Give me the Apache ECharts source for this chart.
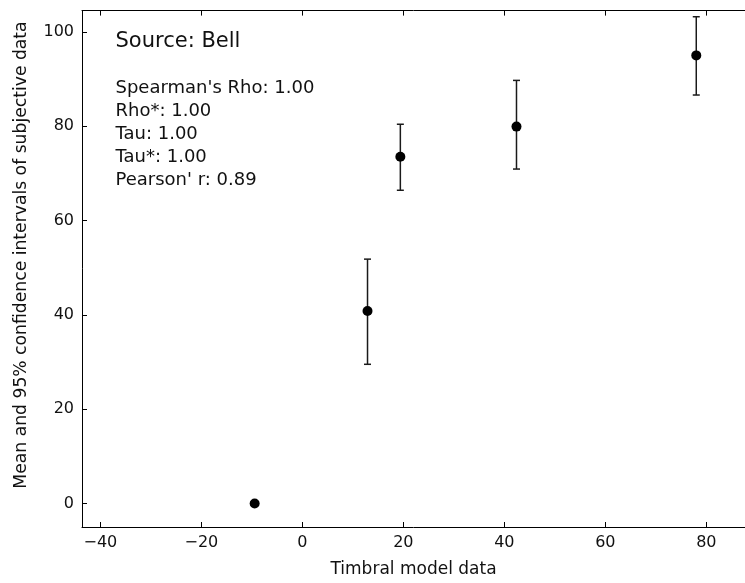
<!DOCTYPE html>
<html>
<head>
<meta charset="utf-8">
<script src="https://cdn.jsdelivr.net/npm/echarts@6/dist/echarts.min.js"></script>
<style>
  html, body { margin: 0; padding: 0; background: #fff; }
  #chart { width: 745px; height: 583px; }
</style>
</head>
<body>
<div id="chart"></div>
<script>
// Timbral model output vs. subjective ratings (mean with 95% CI)
const modelValues = [-9.45, 12.9, 19.4, 42.4, 78.0];
const meanRatings = [0, 40.8, 73.5, 79.9, 95.0];
const ciLower     = [0, 29.5, 66.4, 70.9, 86.6];
const ciUpper     = [0, 51.8, 80.4, 89.7, 103.2];

const xTicks = [-40, -20, 0, 20, 40, 60, 80];
const yTicks = [0, 20, 40, 60, 80, 100];

const xTitle = 'Timbral model data';
const yTitle = 'Mean and 95% confidence intervals of subjective data';
const sourceLabel = 'Source: Bell';
const statLines = [
  "Spearman's Rho: 1.00",
  'Rho*: 1.00',
  'Tau: 1.00',
  'Tau*: 1.00',
  "Pearson' r: 0.89"
];

const FONT = 'DejaVu Sans';
const INK = '#000';
const minus = v => String(v).replace('-', '\u2212');

const points = modelValues.map((x, i) => [x, meanRatings[i]]);
const bars = modelValues.map((x, i) => [x, ciLower[i], ciUpper[i]]);

const chart = echarts.init(document.getElementById('chart'), null, { renderer: 'canvas' });

const baseAxisLine = { show: true, onZero: false, lineStyle: { color: INK, width: 1 } };
const X_MIN = -43.64, X_MAX = 87.65;

chart.setOption({
  animation: false,
  backgroundColor: '#fff',
  // plot box is open on the right: it ends at the canvas edge
  grid: { left: 82, top: 10.6, bottom: 52.2, right: 0, containLabel: false },
  xAxis: [
    {
      type: 'value', position: 'bottom', min: X_MIN, max: X_MAX,
      axisLine: baseAxisLine,
      axisTick: { show: true, inside: true, length: 5, customValues: xTicks, lineStyle: { color: INK } },
      axisLabel: { customValues: xTicks, formatter: minus, color: '#111', fontFamily: FONT, fontSize: 16, margin: 8 },
      splitLine: { show: false },
      name: xTitle, nameLocation: 'middle', nameGap: 34,
      nameTextStyle: { fontFamily: FONT, fontSize: 17, color: '#111' }
    },
    {
      type: 'value', position: 'top', min: X_MIN, max: X_MAX,
      axisLine: baseAxisLine,
      axisTick: { show: true, inside: true, length: 5, customValues: xTicks, lineStyle: { color: INK } },
      axisLabel: { show: false },
      splitLine: { show: false }
    }
  ],
  yAxis: [
    {
      type: 'value', position: 'left', min: -5, max: 104.5,
      axisLine: baseAxisLine,
      axisTick: { show: true, inside: true, length: 5, customValues: yTicks, lineStyle: { color: INK } },
      axisLabel: { customValues: yTicks, formatter: minus, color: '#111', fontFamily: FONT, fontSize: 16, margin: 8 },
      splitLine: { show: false }
    }
  ],
  series: [
    {
      // vertical confidence interval bars with caps
      type: 'custom',
      xAxisIndex: 0, yAxisIndex: 0,
      data: bars,
      z: 2,
      renderItem: function (params, api) {
        const x = api.value(0);
        const lo = api.coord([x, api.value(1)]);
        const hi = api.coord([x, api.value(2)]);
        const cap = 3.5;
        const style = { stroke: '#1a1a1a', lineWidth: 1.5 };
        return {
          type: 'group',
          children: [
            { type: 'line', shape: { x1: lo[0], y1: lo[1], x2: hi[0], y2: hi[1] }, style },
            { type: 'line', shape: { x1: hi[0] - cap, y1: hi[1], x2: hi[0] + cap, y2: hi[1] }, style },
            { type: 'line', shape: { x1: lo[0] - cap, y1: lo[1], x2: lo[0] + cap, y2: lo[1] }, style }
          ]
        };
      }
    },
    {
      type: 'scatter',
      xAxisIndex: 0, yAxisIndex: 0,
      data: points,
      symbol: 'circle',
      symbolSize: 10,
      itemStyle: { color: '#000', opacity: 1 },
      z: 3
    }
  ],
  graphic: [
    {
      type: 'text', x: 22, y: 255, rotation: Math.PI / 2,
      style: { text: yTitle, fontFamily: FONT, fontSize: 17.2, fill: '#111', align: 'center', verticalAlign: 'middle' }
    },
    {
      type: 'text', x: 115.5, y: 42,
      style: { text: sourceLabel, fontFamily: FONT, fontSize: 21, fill: '#111', verticalAlign: 'middle' }
    }
  ].concat(statLines.map((t, i) => ({
    type: 'text', x: 115.5, y: 88 + i * 23,
    style: { text: t, fontFamily: FONT, fontSize: 18, fill: '#111', verticalAlign: 'middle' }
  })))
});
</script>
</body>
</html>
